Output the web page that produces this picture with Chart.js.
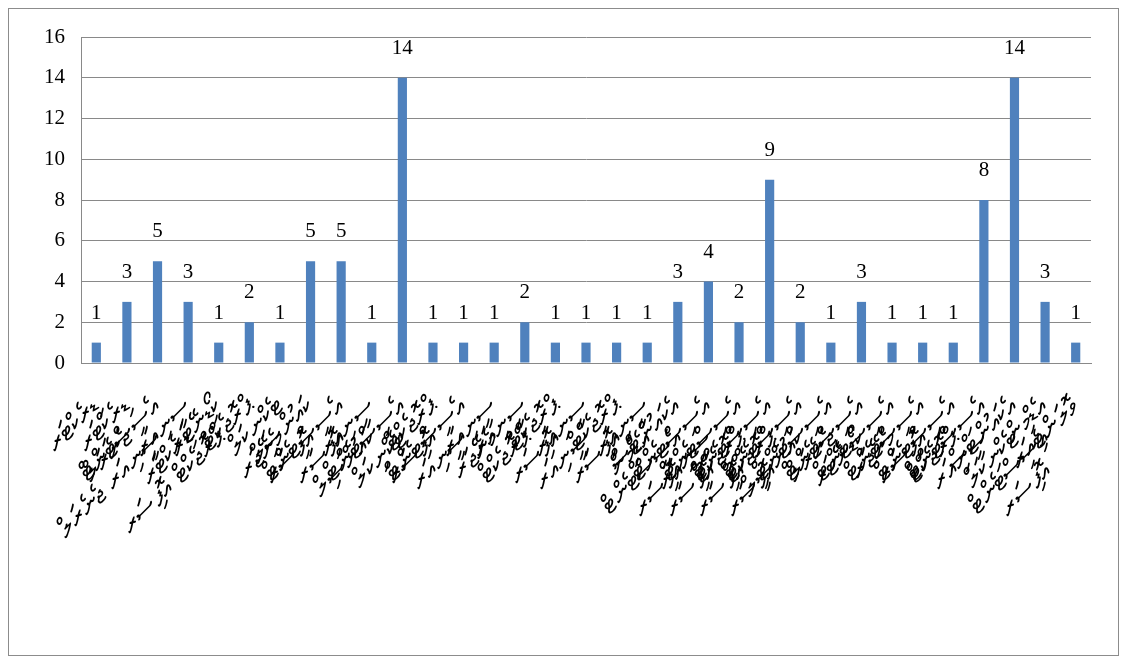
<!DOCTYPE html>
<html><head><meta charset="utf-8">
<script src="https://cdn.jsdelivr.net/npm/chart.js@4.4.0/dist/chart.umd.min.js"></script>
<style>
html,body{margin:0;padding:0;background:#fff;}
#frame{position:absolute;left:8px;top:8px;width:1111px;height:648px;border:1px solid #8c8c8c;box-sizing:border-box;background:#fff;}
#c{display:block;}
</style></head><body>
<div id="frame"><canvas id="c" width="1109" height="646"></canvas></div>
<script>
// categories (job titles, Dhivehi), multi-line
const categories = [
  ["ޑިރެކްޓަރ", "ޖެނެރަލް"],
  ["ޑިރެކްޓަރ", "ސީނިއަރ ޖެނެރަލް"],
  ["އެސިސްޓަންޓް", "ޑިރެކްޓަރ"],
  ["ސީނިއަރ", "ޕްރޮޖެކްޓް އޮފިސަރ"],
  ["ކޯޑިނޭޓަރ"],
  ["ޕްރޮޖެކްޓް", "މެނޭޖަރ"],
  ["ޓެކްނިކަލް", "އޮފިސަރ"],
  ["ކައުންސިލް", "އޮފިސަރ"],
  ["އެސިސްޓެންޓް", "ކައުންސިލް"],
  ["ސީނިއަރ", "ޓެކްނިކަލް"],
  ["އެސިސްޓެންޓް", "އޮފިސަރ"],
  ["ޕްރޮޖެކްޓް", "ސީނިއަރ"],
  ["އެސިސްޓެންޓް", "މެނޭޖަރ"],
  ["ސީނިއަރ", "ޕްރޮޖެކްޓް"],
  ["ސީނިއަރ", "އޮފިސަރ"],
  ["ޕްރޮޖެކްޓް", "ސީނިއަރ"],
  ["ސީނިއަރ", "އޮފިސަރ"],
  ["ޕްރޮޖެކްޓް", "އެޑްމިން", "އޮފިސަރ"],
  ["ސީނިއަރ", "އެސިސްޓެންޓް", "އޮފިސަރ"],
  ["އެކައުންޓްސް", "ސީނިއަރ", "އޮފިސަރ"],
  ["އެސިސްޓެންޓް", "ޕްރޮޖެކްޓް", "އޮފިސަރ"],
  ["އެސިސްޓެންޓް", "ޕްރޮޖެކްޓް"],
  ["އެސިސްޓެންޓް", "ކައުންސިލް"],
  ["އެސިސްޓެންޓް", "ޖެނެރަލް"],
  ["އެސިސްޓެންޓް", "ކޯޑިނޭޓަރ"],
  ["އެސިސްޓެންޓް", "މެނޭޖަރ"],
  ["އެސިސްޓެންޓް", "އޮފިސަރ"],
  ["އެސިސްޓެންޓް", "ޕްރޮޖެކްޓް"],
  ["އެސިސްޓެންޓް", "ސީނިއަރ"],
  ["އެސިސްޓެންޓް", "ޓެކްނިކަލް", "އޮފިސަރ"],
  ["އެކައުންޓްސް", "އެސިސްޓެންޓް"],
  ["އެޑްމިން"],
  ["ވޮލަންޓިއަރ"]
];
const values = [1,3,5,3,1,2,1,5,5,1,14,1,1,1,2,1,1,1,1,3,4,2,9,2,1,3,1,1,1,8,14,3,1];
const yMin = 0, yMax = 16, yStep = 2;

const barLabels = {
  id: 'barLabels',
  afterDatasetsDraw(chart) {
    const ctx = chart.ctx;
    const meta = chart.getDatasetMeta(0);
    ctx.save();
    ctx.font = '21px "Liberation Serif", "Times New Roman", serif';
    ctx.fillStyle = '#000';
    ctx.textAlign = 'center';
    ctx.textBaseline = 'alphabetic';
    meta.data.forEach((bar, i) => {
      ctx.fillText(String(values[i]), bar.x, bar.y - 24);
    });
    ctx.restore();
  }
};

new Chart(document.getElementById('c'), {
  type: 'bar',
  data: {
    labels: categories,
    datasets: [{
      data: values,
      backgroundColor: '#4F81BD',
      borderWidth: 0,
      barPercentage: 0.3,
      categoryPercentage: 1.0
    }]
  },
  options: {
    responsive: false,
    animation: false,
    layout: { padding: { top: 28, right: 27, bottom: 0, left: 0 } },
    plugins: { legend: { display: false }, tooltip: { enabled: false } },
    scales: {
      x: {
        grid: { display: false, drawTicks: false },
        border: { display: true, color: '#898989', width: 1 },
        ticks: {
          autoSkip: false, maxRotation: 45, minRotation: 45, padding: 24,
          color: '#000',
          font: { family: '"DejaVu Sans", "Noto Sans", sans-serif', size: 27, lineHeight: 1.7 }
        },
        afterFit(scale) { scale.height = 292; scale.paddingLeft = 0; scale.paddingRight = 0; }
      },
      y: {
        min: yMin, max: yMax,
        grid: { color: '#898989', lineWidth: 1, drawTicks: false },
        border: { display: true, color: '#898989', width: 1 },
        ticks: {
          stepSize: yStep, padding: 16, color: '#000',
          font: { family: '"Liberation Serif", "Times New Roman", serif', size: 21 }
        },
        afterFit(scale) { scale.width = 72; scale.paddingTop = 0; scale.paddingBottom = 0; }
      }
    }
  },
  plugins: [barLabels]
});
</script>
</body></html>
